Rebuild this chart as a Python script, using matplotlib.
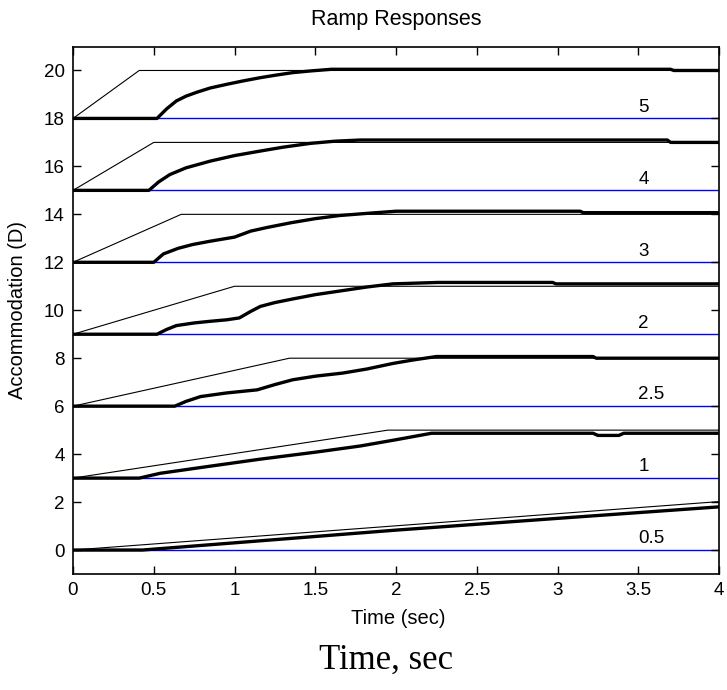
import matplotlib
matplotlib.use("Agg")
import matplotlib.pyplot as plt

plt.rcParams['font.family'] = ['Liberation Sans', 'DejaVu Sans']

##data: baselines, ramp rate labels, stimulus corners and response samples
baselines = [18, 15, 12, 9, 6, 3, 0]
rate_labels = ['5', '4', '3', '2', '2.5', '1', '0.5']

stim_t = [
    [0, 0.41, 4.0],
    [0, 0.50, 4.0],
    [0, 0.67, 4.0],
    [0, 1.00, 4.0],
    [0, 1.34, 4.0],
    [0, 1.95, 4.0],
    [0, 4.00],
]
stim_y = [
    [18, 20, 20],
    [15, 17, 17],
    [12, 14, 14],
    [9, 11, 11],
    [6, 8, 8],
    [3, 5, 5],
    [0, 2.02],
]

resp_t = [
    [0, 0.52, 0.58, 0.64, 0.70, 0.77, 0.85, 0.95, 1.05, 1.16, 1.26, 1.36, 1.47, 1.60, 3.70, 3.72, 4.0],
    [0, 0.47, 0.53, 0.60, 0.70, 0.85, 1.00, 1.16, 1.30, 1.47, 1.62, 1.78, 3.68, 3.70, 4.0],
    [0, 0.50, 0.56, 0.65, 0.74, 0.85, 1.00, 1.10, 1.20, 1.35, 1.50, 1.65, 1.80, 2.00, 3.14, 3.16, 4.0],
    [0, 0.52, 0.58, 0.64, 0.75, 0.85, 0.95, 1.03, 1.10, 1.16, 1.25, 1.36, 1.50, 1.67, 1.82, 1.98, 2.26, 2.97, 2.99, 4.0],
    [0, 0.63, 0.70, 0.79, 0.95, 1.14, 1.25, 1.36, 1.50, 1.67, 1.82, 1.98, 2.10, 2.25, 3.22, 3.24, 4.0],
    [0, 0.41, 0.54, 0.80, 1.16, 1.50, 1.78, 2.00, 2.22, 3.22, 3.25, 3.38, 3.41, 4.0],
    [0, 0.43, 1.00, 2.00, 3.00, 4.0],
]
resp_y = [
    [18, 18, 18.40, 18.73, 18.93, 19.10, 19.27, 19.42, 19.56, 19.70, 19.81, 19.91, 19.98, 20.05, 20.05, 20.0, 20.0],
    [15, 15, 15.35, 15.66, 15.94, 16.22, 16.45, 16.64, 16.80, 16.96, 17.05, 17.10, 17.10, 17.0, 17.0],
    [12, 12, 12.35, 12.58, 12.74, 12.88, 13.05, 13.30, 13.45, 13.65, 13.82, 13.95, 14.03, 14.13, 14.13, 14.07, 14.07],
    [9, 9, 9.20, 9.36, 9.47, 9.54, 9.60, 9.68, 9.95, 10.16, 10.32, 10.47, 10.65, 10.82, 10.97, 11.10, 11.16, 11.16, 11.10, 11.10],
    [6, 6, 6.20, 6.40, 6.55, 6.68, 6.90, 7.10, 7.25, 7.38, 7.55, 7.78, 7.92, 8.07, 8.07, 8.0, 8.0],
    [3, 3, 3.20, 3.45, 3.79, 4.08, 4.34, 4.60, 4.87, 4.87, 4.78, 4.78, 4.87, 4.87],
    [0, 0, 0.30, 0.83, 1.32, 1.80],
]

fig = plt.figure(figsize=(7.27, 6.9), dpi=100)
ax = fig.add_axes([73/727, 116/690, 646/727, 527.5/690])

for i, base in enumerate(baselines):
    ax.plot([0, 4], [base, base], color='#0000ff', lw=1.0, zorder=1)
    ax.plot(stim_t[i], stim_y[i], color='black', lw=0.8, zorder=2)
    ax.plot(resp_t[i], resp_y[i], color='black', lw=2.4, zorder=3,
            solid_joinstyle='round')
    ax.text(3.5, base + 0.28, rate_labels[i], fontsize=13.5, ha='left', va='baseline')

ax.set_xlim(0, 4)
ax.set_ylim(-1, 21)
ax.set_xticks([0, 0.5, 1, 1.5, 2, 2.5, 3, 3.5, 4])
ax.set_xticklabels(['0', '0.5', '1', '1.5', '2', '2.5', '3', '3.5', '4'])
ax.set_yticks(range(0, 21, 2))
ax.tick_params(direction='in', top=True, right=True, length=6, width=1,
               labelsize=13.5, pad=6)
for s in ax.spines.values():
    s.set_linewidth(1.2)

fig.text(396/727, 1 - 20/690, 'Ramp Responses', fontsize=15.5, ha='center', va='center')
fig.text(398/727, 1 - 619/690, 'Time (sec)', fontsize=14.5, ha='center', va='center')
fig.text(18/727, 1 - 310/690, 'Accommodation (D)', fontsize=14.5, ha='center',
         va='center', rotation=90)

fig.text(386/727, 1 - 660/690, 'Time, sec', fontsize=25, ha='center', va='center',
         family=['Liberation Serif', 'DejaVu Serif'])

fig.savefig('out.png', dpi=100)
